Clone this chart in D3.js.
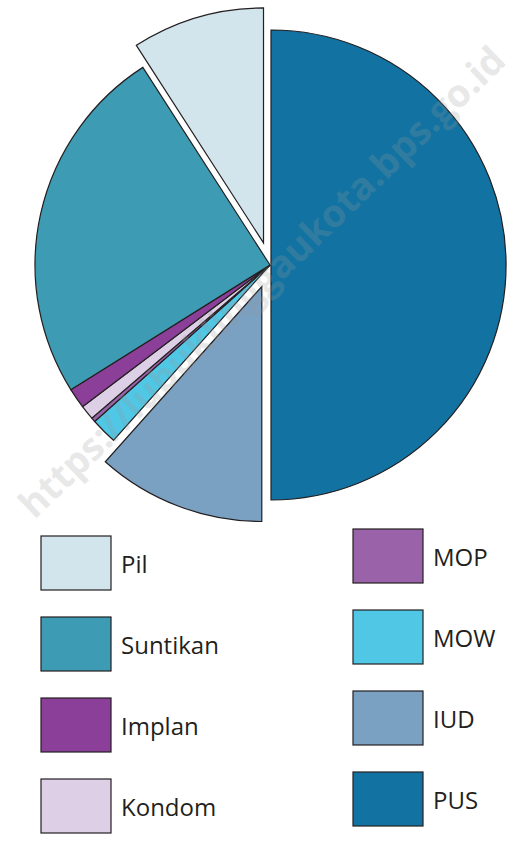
<!DOCTYPE html>
<html>
<head>
<meta charset="utf-8">
<script src="https://cdn.jsdelivr.net/npm/d3@7"></script>
<style>
  body { margin: 0; background: #fff; }
  text { font-family: "Open Sans", "Noto Sans", sans-serif; }
</style>
</head>
<body>
<svg id="chart" width="516" height="841"></svg>
<script>
// categories in legend order
var categories = ["Pil", "Suntikan", "Implan", "Kondom", "MOP", "MOW", "IUD", "PUS"];
// share of users (%)
var shares = [9.1, 24.8, 1.4, 1.0, 0.3, 1.8, 11.6, 50.0];
var colors = ["#d2e4ec", "#3d9bb3", "#8b3f98", "#ddd0e6", "#9a62a8", "#4fc7e5", "#7aa0c2", "#1273a2"];

var width = 516, height = 841;
var radius = 235;
var cx = 270, cy = 265;
// how far each slice is pulled out from the centre
var explode = { "Pil": 23, "IUD": 23, "PUS": 1 };

var svg = d3.select("#chart");

var rows = categories.map(function (c, i) {
  return { name: c, value: shares[i], color: colors[i] };
});

// clockwise from 12 o'clock the pie runs PUS, IUD, ... Pil
var pie = d3.pie()
  .sort(null)
  .value(function (d) { return d.value; });

var arc = d3.arc()
  .innerRadius(0)
  .outerRadius(radius);

var pieGroup = svg.append("g")
  .attr("class", "pie")
  .attr("transform", "translate(" + cx + "," + cy + ")");

pieGroup.selectAll("path")
  .data(pie(rows.slice().reverse()))
  .enter()
  .append("path")
  .attr("d", arc)
  .attr("transform", function (d) {
    var off = explode[d.data.name] || 0;
    var mid = (d.startAngle + d.endAngle) / 2;
    return "translate(" + (Math.sin(mid) * off) + "," + (-Math.cos(mid) * off) + ")";
  })
  .style("fill", function (d) { return d.data.color; })
  .style("stroke", "#231f20")
  .style("stroke-width", 1.2)
  .style("stroke-linejoin", "miter");

// legend: two columns of four
var boxW = 70, boxH = 54;
var legendCols = [
  { x: 41, y: 536 },
  { x: 353, y: 529 }
];
var rowStep = 81;

var legend = svg.append("g")
  .attr("class", "legend");

var items = legend.selectAll(".legend-item")
  .data(rows)
  .enter()
  .append("g")
  .attr("class", "legend-item")
  .attr("transform", function (d, i) {
    var col = legendCols[Math.floor(i / 4)];
    return "translate(" + col.x + "," + (col.y + (i % 4) * rowStep) + ")";
  });

items.append("rect")
  .attr("width", boxW)
  .attr("height", boxH)
  .style("fill", function (d) { return d.color; })
  .style("stroke", "#231f20")
  .style("stroke-width", 1.2);

items.append("text")
  .attr("x", boxW + 10)
  .attr("y", boxH / 2 + 10)
  .style("font-size", "24px")
  .style("fill", "#231f20")
  .text(function (d) { return d.name; });

// faint watermark across the chart
svg.append("text")
  .attr("transform", "translate(262,282) rotate(-44)")
  .attr("text-anchor", "middle")
  .attr("dy", "0.35em")
  .style("font-size", "38px")
  .style("font-weight", "bold")
  .style("fill", "#9a9a9a")
  .style("opacity", 0.22)
  .text("https://lubuklinggaukota.bps.go.id");
</script>
</body>
</html>
